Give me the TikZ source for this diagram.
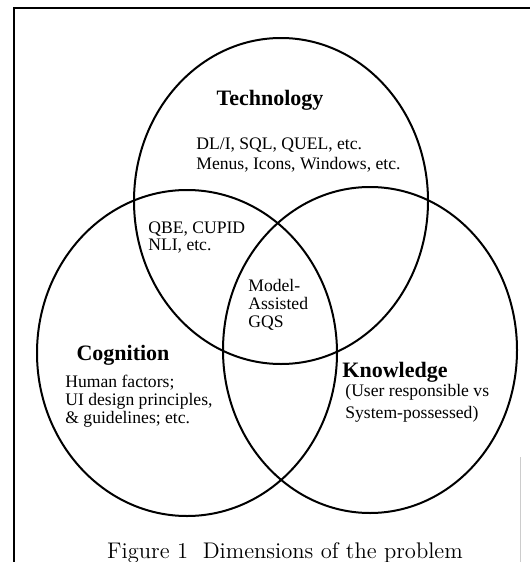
\documentclass[tikz,border=0pt]{standalone}
\usepackage{fontspec}
\newfontfamily\timesfont{Liberation Serif}

\tikzset{
  dimension/.style={line width=1pt},
  heading/.style={font=\timesfont\bfseries\fontsize{11}{12}\selectfont, inner sep=0pt},
  items/.style={font=\timesfont\fontsize{8.8}{9.5}\selectfont, align=left, inner sep=0pt, anchor=west},
}

\begin{document}
\begin{tikzpicture}[x=0.5pt,y=-0.5pt]
  \useasboundingbox (0,0) rectangle (530,562);
  % frame, cut on the right and at the bottom
  \draw[line width=1pt] (14,562) -- (14,8) -- (530,8);
  \draw[gray!40, line width=0.4pt] (520,457) -- (520,562);

  % the three dimensions
  \draw[dimension] (281,201) ellipse [x radius=147, y radius=163];
  \draw[dimension] (187,353) ellipse [x radius=150, y radius=163];
  \draw[dimension] (370,350) ellipse [x radius=147, y radius=163];

  \node[heading] (tech) at (270,100) {Technology};
  \node[items, font=\timesfont\fontsize{8.8}{10}\selectfont] (techitems) at (196,155)
    {DL/I, SQL, QUEL, etc.\\Menus, Icons, Windows, etc.};

  \node[items, font=\timesfont\fontsize{8.8}{8.5}\selectfont] (techcog) at (148,238)
    {QBE, CUPID\\NLI, etc.};
  \node[items, font=\timesfont\fontsize{8.8}{9}\selectfont] (core) at (248,305)
    {Model-\\Assisted\\GQS};

  \node[heading] (cog) at (123,355) {Cognition};
  \node[items, font=\timesfont\fontsize{8.8}{9}\selectfont] (cogitems) at (65,401)
    {Human factors;\\UI design principles,\\\& guidelines; etc.};

  \node[heading] (know) at (395,372) {Knowledge};
  \node[items, font=\timesfont\fontsize{8.8}{11}\selectfont] (knowitems) at (345,403)
    {(User responsible vs\\System-possessed)};

  \node[font=\fontsize{11.3}{13}\selectfont, inner sep=0pt] (caption) at (285,553)
    {Figure 1\ \ Dimensions of the problem};
\end{tikzpicture}
\end{document}
